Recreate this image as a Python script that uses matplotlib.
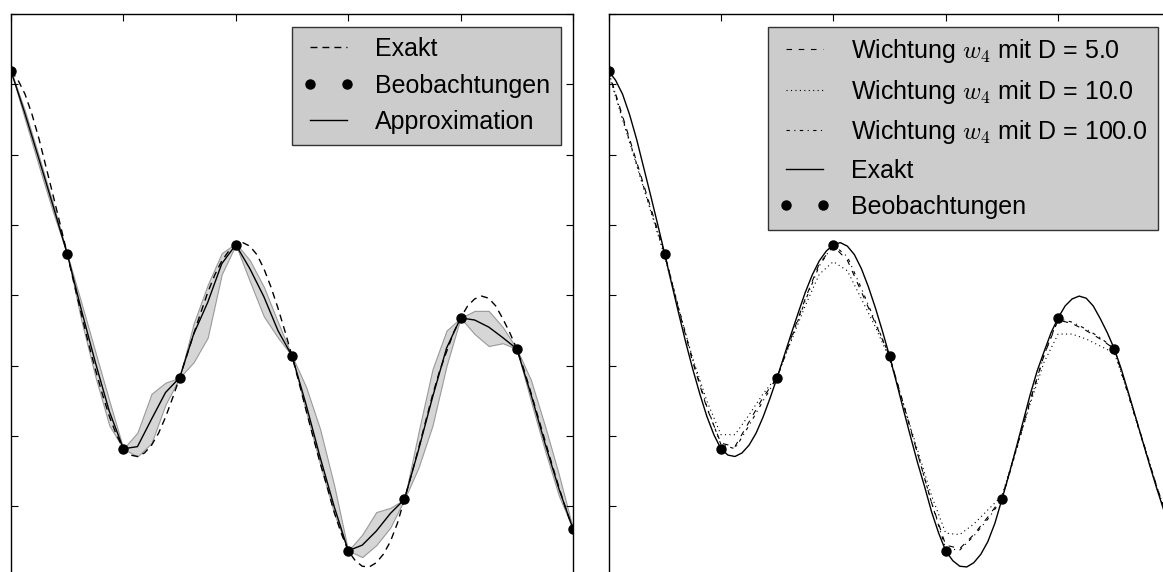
import numpy as np
import matplotlib
matplotlib.use("Agg")
import matplotlib.pyplot as plt

plt.rcParams['font.family'] = ['Liberation Sans', 'DejaVu Sans']
plt.rcParams['mathtext.fontset'] = 'cm'

# observations
x_obs = [0, 1, 2, 3, 4, 5, 6, 7, 8, 9, 10]
y_obs = [3.19, 0.59, -2.18, -1.17, 0.72, -0.86, -3.63, -2.90, -0.32, -0.76, -3.32]

# exact function, every 0.125
x_fine = [i * 0.125 for i in range(81)]
y_exact = [3.19, 3.06, 2.86, 2.57, 2.22, 1.82, 1.42, 1.01,
           0.59, 0.16, -0.26, -0.67, -1.05, -1.40, -1.72, -1.98,
           -2.18, -2.27, -2.29, -2.24, -2.13, -1.96, -1.73, -1.46,
           -1.17, -0.86, -0.55, -0.25, 0.04, 0.29, 0.49, 0.63,
           0.72, 0.75, 0.70, 0.58, 0.38, 0.12, -0.18, -0.51,
           -0.86, -1.24, -1.63, -2.01, -2.38, -2.72, -3.08, -3.38,
           -3.63, -3.77, -3.85, -3.86, -3.80, -3.68, -3.50, -3.24,
           -2.90, -2.55, -2.18, -1.80, -1.42, -1.08, -0.80, -0.53,
           -0.32, -0.15, -0.05, -0.01, -0.04, -0.15, -0.33, -0.53,
           -0.76, -1.05, -1.38, -1.72, -2.06, -2.40, -2.73, -3.04,
           -3.32]

# approximations, read off every 0.25
x = [i * 0.25 for i in range(41)]
y_approx = [3.19, 2.58, 1.93, 1.27, 0.59, -0.2, -0.95, -1.65, -2.18,
            -2.15, -1.76, -1.38, -1.17, -0.55, -0.1, 0.45, 0.72,
            0.38, -0.02, -0.5, -0.86, -1.55, -2.3, -3.0, -3.63,
            -3.55, -3.35, -3.1, -2.90, -2.2, -1.45, -0.75, -0.32,
            -0.35, -0.45, -0.6, -0.76, -1.4, -2.1, -2.75, -3.32]
band_low = [3.19, 2.5, 1.83, 1.18, 0.59, -0.35, -1.15, -1.85, -2.18,
            -2.29, -2.1, -1.55, -1.17, -0.95, -0.6, 0.3, 0.72,
            0.2, -0.3, -0.6, -0.86, -1.65, -2.4, -3.1, -3.63,
            -3.72, -3.55, -3.3, -2.90, -2.45, -1.85, -1.0, -0.32,
            -0.55, -0.72, -0.68, -0.76, -1.5, -2.2, -2.85, -3.32]
band_high = [3.19, 2.62, 1.97, 1.3, 0.59, -0.1, -0.8, -1.5, -2.18,
             -1.95, -1.4, -1.24, -1.17, -0.4, 0.15, 0.6, 0.74,
             0.5, 0.12, -0.38, -0.86, -1.3, -1.9, -2.7, -3.63,
             -3.4, -3.08, -3.02, -2.90, -1.95, -1.05, -0.5, -0.32,
             -0.22, -0.22, -0.45, -0.76, -1.2, -1.85, -2.55, -3.32]

y_d5 = [3.19, 2.55, 1.9, 1.25, 0.59, -0.2, -0.95, -1.6, -2.1,
        -2.15, -1.8, -1.45, -1.17, -0.6, -0.05, 0.45, 0.7,
        0.5, 0.05, -0.4, -0.86, -1.55, -2.25, -2.95, -3.55,
        -3.6, -3.4, -3.15, -2.88, -2.2, -1.5, -0.85, -0.35,
        -0.4, -0.5, -0.62, -0.76, -1.4, -2.05, -2.7, -3.3]
y_d10 = [3.15, 2.5, 1.85, 1.2, 0.55, -0.2, -0.9, -1.5, -1.98,
         -1.98, -1.7, -1.4, -1.15, -0.65, -0.15, 0.3, 0.48,
         0.35, -0.05, -0.45, -0.9, -1.55, -2.2, -2.85, -3.38,
         -3.4, -3.25, -3.05, -2.85, -2.2, -1.55, -0.95, -0.55,
         -0.55, -0.62, -0.72, -0.82, -1.4, -2.05, -2.7, -3.3]
y_d100 = [3.19, 2.52, 1.87, 1.22, 0.59, -0.18, -0.92, -1.58, -2.12,
          -2.18, -1.85, -1.5, -1.17, -0.62, -0.08, 0.42, 0.72,
          0.55, 0.1, -0.38, -0.86, -1.55, -2.25, -2.95, -3.6,
          -3.62, -3.42, -3.18, -2.9, -2.22, -1.52, -0.85, -0.33,
          -0.38, -0.48, -0.6, -0.76, -1.42, -2.07, -2.72, -3.32]

W, H = 1163, 572
fig = plt.figure(figsize=(W / 100, H / 100), dpi=100)
# axes run past the bottom/right edge of the picture (cropped figure)
ax1 = fig.add_axes([11 / W, 1 - 600 / H, 562 / W, 586 / H])
ax2 = fig.add_axes([608.5 / W, 1 - 600 / H, 562 / W, 586 / H])

# left panel
ax1.fill_between(x, band_low, band_high, facecolor='#d6d6d6', edgecolor='#999999', lw=0.8)
ax1.plot(x_fine, y_exact, color='k', linestyle=(0, (5, 3.6)), lw=1.0, label='Exakt')
ax1.plot(x_obs, y_obs, 'o', color='k', ms=6.5, label='Beobachtungen')
ax1.plot(x, y_approx, color='k', lw=1.0, label='Approximation')

# right panel
ax2.plot(x, y_d5, color='k', linestyle=(0, (5, 6)), lw=0.8, label=r'Wichtung $w_4$ mit D = 5.0')
ax2.plot(x, y_d10, color='k', linestyle=(0, (1, 3)), lw=0.8, label=r'Wichtung $w_4$ mit D = 10.0')
ax2.plot(x, y_d100, color='k', linestyle=(0, (3, 4, 1, 4)), lw=0.8, label=r'Wichtung $w_4$ mit D = 100.0')
ax2.plot(x_fine, y_exact, color='k', lw=1.0, label='Exakt')
ax2.plot(x_obs, y_obs, 'o', color='k', ms=6.5, label='Beobachtungen')

for ax in (ax1, ax2):
    ax.set_xlim(0, 10)
    ax.set_ylim(-4.33, 4)
    ax.set_xticks(range(0, 11, 2))
    ax.set_yticks(range(-4, 5))
    ax.tick_params(direction='in', length=5, width=0.8, top=True, right=True,
                   labelbottom=False, labelleft=False)
    for s in ax.spines.values():
        s.set_linewidth(1.0)
    leg = ax.legend(loc='upper right', numpoints=2, fontsize=18, fancybox=False,
                    framealpha=1, handlelength=2.1, handletextpad=0.8,
                    labelspacing=0.5, borderpad=0.42)
    leg.get_frame().set_facecolor('#cccccc')
    leg.get_frame().set_edgecolor('#333333')
    leg.get_frame().set_linewidth(1.0)

fig.savefig('out.png', dpi=100)
